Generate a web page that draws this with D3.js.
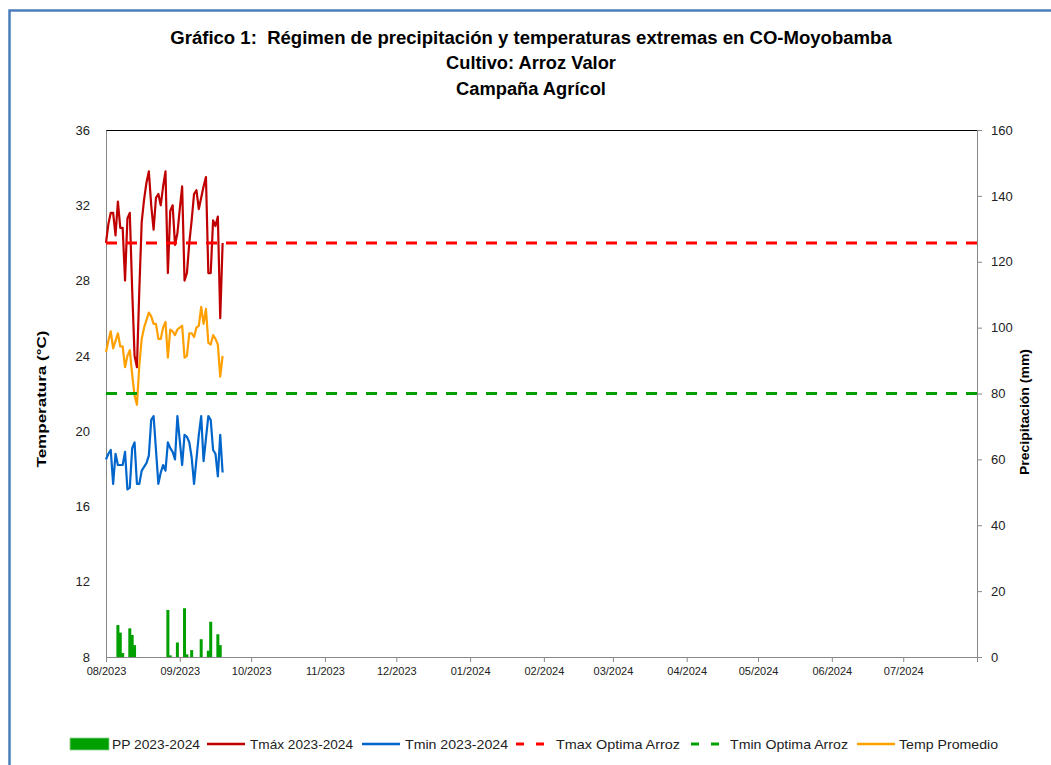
<!DOCTYPE html>
<html><head><meta charset="utf-8">
<script src="https://cdn.jsdelivr.net/npm/d3@7"></script>
<style>body{margin:0;background:#fff}svg{display:block}text{white-space:pre}</style>
</head><body>
<svg id="c" width="1051" height="765"></svg>
<script>
// ---------- DATA ----------
const startDate = "2023-08-01";
const tmax = [30.0,31.0,31.6,31.6,30.4,32.2,30.8,30.8,28.0,31.3,31.6,27.5,24.0,23.4,27.5,31.1,32.3,33.2,33.8,32.0,
              30.7,32.4,32.6,32.0,33.0,33.8,28.4,31.7,32.0,29.9,30.5,31.8,33.0,28.0,28.4,30.0,31.2,32.6,32.8,31.8,
              32.4,33.0,33.5,28.4,28.4,31.2,30.9,31.4,26.0,30.0];
const tmin = [18.5,18.8,19.0,17.2,18.8,18.2,18.2,18.2,18.9,16.9,17.0,19.1,19.4,17.2,17.2,17.9,18.1,18.3,18.7,20.6,
              20.8,19.0,17.2,17.8,18.2,17.9,19.4,19.1,18.9,18.5,20.8,19.5,18.2,19.8,19.7,19.4,18.6,17.2,18.5,19.8,
              20.8,18.4,19.6,20.8,20.6,19.0,18.8,17.6,19.8,17.8];
const tprom = [24.2,24.8,25.3,24.4,24.8,25.2,24.5,24.5,23.4,24.0,24.3,23.0,21.9,21.4,23.5,24.9,25.5,25.9,26.3,26.1,
               25.7,25.7,24.9,24.9,25.5,25.8,23.9,25.4,25.3,25.1,25.4,25.5,25.6,23.9,24.0,25.2,25.2,25.0,25.5,25.6,
               26.6,25.7,26.5,24.7,24.6,25.1,24.9,24.6,22.9,24.0];
const pp = [0,0,0,0,0,9.7,7.4,1.2,0,0,8.7,6.7,3.6,0,0,0,0,0,0,0,
            0,0,0,0,0,0,14.3,0.5,0,0,4.4,0,0,14.8,0.8,0,2.1,0,0,0,
            5.4,0,0,1.9,10.7,0,0,6.9,3.6,0];
const tmaxOptima = 30;
const tminOptima = 22;
const tempTicks = [8,12,16,20,24,28,32,36];
const ppTicks = [0,20,40,60,80,100,120,140,160];
const xDomain = ["2023-08-01","2024-08-01"];
const titles = ["Gráfico 1:  Régimen de precipitación y temperaturas extremas en CO-Moyobamba","Cultivo: Arroz Valor","Campaña Agrícol"];
const legendLabels = ["PP 2023-2024","Tmáx 2023-2024","Tmin 2023-2024","Tmax Optima Arroz","Tmin Optima Arroz","Temp Promedio"];

// ---------- SETUP ----------
const parse = d3.timeParse("%Y-%m-%d");
const t0 = parse(startDate);
const days = tmax.map((_, i) => d3.timeDay.offset(t0, i));
const svg = d3.select("#c");
const FONT = "'Liberation Sans', Arial, sans-serif";
const L = 106, R = 977, T = 130, B = 657;

const x = d3.scaleTime().domain(xDomain.map(parse)).range([L, R]);
const yT = d3.scaleLinear().domain([8, 36]).range([B, T]);
const yP = d3.scaleLinear().domain([0, 160]).range([B, T]);

// frame
svg.append("rect").attr("x", 9.5).attr("y", 10.5).attr("width", 1200).attr("height", 900)
  .attr("fill", "none").attr("stroke", "#4a7ebb").attr("stroke-width", 2.5);

function fit(sel, w) {
  const n = sel.node();
  const cur = parseFloat(sel.attr("font-size"));
  const len = n.getComputedTextLength();
  sel.attr("font-size", (cur * w / len).toFixed(2));
}
function squeeze(sel, w) {
  sel.attr("textLength", w).attr("lengthAdjust", "spacingAndGlyphs");
}

// titles
const titleY = [44, 69, 95], titleW = [722, 170, 150];
titles.forEach((t, i) => {
  const s = svg.append("text").attr("x", 531).attr("y", titleY[i]).attr("text-anchor", "middle")
    .attr("xml:space", "preserve")
    .attr("font-family", FONT).attr("font-weight", "bold").attr("font-size", 17).attr("fill", "#000").text(t);
  fit(s, titleW[i]);
});

// top border of plot
svg.append("line").attr("x1", L).attr("x2", R).attr("y1", T + 0.5).attr("y2", T + 0.5)
  .attr("stroke", "#000").attr("stroke-width", 1);

// bars
const barW = 3;
svg.append("g").selectAll("rect").data(pp.map((v, i) => ({ d: days[i], v })).filter(d => d.v > 0))
  .join("rect")
  .attr("x", d => x(d.d) - barW / 2).attr("width", barW)
  .attr("y", d => yP(d.v)).attr("height", d => yP(0) - yP(d.v))
  .attr("fill", "#00a000");

// axes
const gx = svg.append("g").attr("transform", `translate(0,${B})`)
  .call(d3.axisBottom(x).ticks(d3.timeMonth.every(1)).tickFormat(d3.timeFormat("%m/%Y")).tickSizeOuter(0).tickSize(5));
gx.selectAll("text").filter(d => d >= parse("2024-08-01")).remove();
gx.selectAll(".tick line").filter(d => d >= parse("2024-08-01")).remove();
gx.select(".domain").attr("stroke", "#888");
gx.selectAll(".tick line").attr("stroke", "#888");
gx.selectAll("text").attr("font-family", FONT).attr("font-size", 11).attr("fill", "#222").attr("dy", "0.9em");

const gl = svg.append("g").attr("transform", `translate(${L},0)`)
  .call(d3.axisLeft(yT).tickValues(tempTicks).tickSize(0).tickPadding(16));
gl.select(".domain").attr("stroke", "#888");
gl.selectAll("text").attr("font-family", FONT).attr("font-size", 13).attr("fill", "#222");

const gr = svg.append("g").attr("transform", `translate(${R},0)`)
  .call(d3.axisRight(yP).tickValues(ppTicks).tickSize(5).tickSizeOuter(0).tickPadding(9));
gr.select(".domain").attr("stroke", "#888");
gr.selectAll(".tick line").attr("stroke", "#888");
gr.selectAll("text").attr("font-family", FONT).attr("font-size", 13).attr("fill", "#222");

// axis titles
const at1 = svg.append("text").attr("transform", "translate(46,399) rotate(-90)").attr("text-anchor", "middle")
  .attr("font-family", FONT).attr("font-weight", "bold").attr("font-size", 12.5).text("Temperatura (°C)");
squeeze(at1, 137);
const at2 = svg.append("text").attr("transform", "translate(1029,412) rotate(-90)").attr("text-anchor", "middle")
  .attr("font-family", FONT).attr("font-weight", "bold").attr("font-size", 12.5).text("Precipitación (mm)");
squeeze(at2, 126);

// lines
const line = arr => d3.line().x((d, i) => x(days[i])).y(d => yT(d))(arr);
svg.append("path").attr("d", line(tmax)).attr("fill", "none").attr("stroke", "#c00000").attr("stroke-width", 2.2).attr("stroke-linejoin", "round");
svg.append("path").attr("d", line(tmin)).attr("fill", "none").attr("stroke", "#0066cc").attr("stroke-width", 2.2).attr("stroke-linejoin", "round");
svg.append("path").attr("d", line(tprom)).attr("fill", "none").attr("stroke", "#ffa000").attr("stroke-width", 2.2).attr("stroke-linejoin", "round");

// optimum lines
svg.append("line").attr("x1", L).attr("x2", R).attr("y1", yT(tmaxOptima)).attr("y2", yT(tmaxOptima))
  .attr("stroke", "#ff0000").attr("stroke-width", 3).attr("stroke-dasharray", "11,9");
svg.append("line").attr("x1", L).attr("x2", R).attr("y1", yT(tminOptima)).attr("y2", yT(tminOptima))
  .attr("stroke", "#00a000").attr("stroke-width", 3).attr("stroke-dasharray", "11,9");

// legend
const ly = 744;
const lg = svg.append("g").attr("font-family", FONT).attr("font-size", 13).attr("fill", "#222");
const items = [
  { type: "rect", c: "#00a000", sx: 70, tx: 112, w: 88 },
  { type: "line", c: "#c00000", sx: 207, tx: 250, w: 103 },
  { type: "line", c: "#0066cc", sx: 362, tx: 405, w: 103 },
  { type: "dash", c: "#ff0000", sx: 516, tx: 556, w: 124 },
  { type: "dash", c: "#00a000", sx: 691, tx: 730, w: 118 },
  { type: "line", c: "#ffa000", sx: 857, tx: 899, w: 99 }
];
items.forEach((it, i) => {
  if (it.type === "rect") {
    lg.append("rect").attr("x", it.sx).attr("y", ly - 6).attr("width", 39).attr("height", 12)
      .attr("fill", it.c).attr("stroke", "#8fd08f").attr("stroke-width", 0.8);
  } else if (it.type === "dash") {
    lg.append("line").attr("x1", it.sx).attr("x2", it.sx + 28).attr("y1", ly).attr("y2", ly)
      .attr("stroke", it.c).attr("stroke-width", 3).attr("stroke-dasharray", "8,12");
  } else {
    lg.append("line").attr("x1", it.sx).attr("x2", it.sx + 38).attr("y1", ly).attr("y2", ly)
      .attr("stroke", it.c).attr("stroke-width", 2.5);
  }
  const s = lg.append("text").attr("x", it.tx).attr("y", ly).attr("dy", "0.35em").attr("font-size", 13).text(legendLabels[i]);
  squeeze(s, it.w);
});
</script>
</body></html>
